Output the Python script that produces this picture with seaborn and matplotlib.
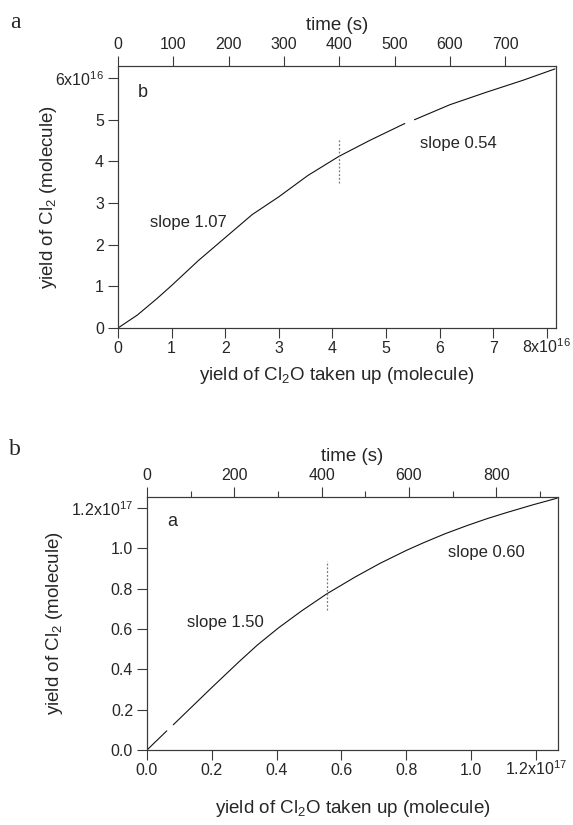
import numpy as np
import pandas as pd
import matplotlib
matplotlib.use("Agg")
import matplotlib.pyplot as plt
import seaborn as sns

# ---------------- data ----------------
# upper figure (inner label "b"), units of 1e16 molecules
uptake_top = [0, 0.36, 0.73, 1.0, 1.5, 2.0, 2.5, 3.0, 3.54, 4.12, 4.69, 5.35,
              5.53, 6.19, 6.87, 7.56, 8.15]
cl2_top = [0, 0.31, 0.71, 1.02, 1.62, 2.17, 2.72, 3.15, 3.66, 4.12, 4.50, 4.91,
           5.00, 5.36, 5.66, 5.95, 6.22]
seg_top = [0] * 12 + [1] * 5

# lower figure (inner label "a"), units of 1e17 molecules
uptake_bot = [0, 0.061, 0.081, 0.20, 0.282, 0.34, 0.405, 0.477, 0.555, 0.642,
              0.719, 0.80, 0.853, 0.92, 0.987, 1.05, 1.11, 1.19, 1.265]
cl2_bot = [0.0, 0.095, 0.125, 0.31, 0.435, 0.52, 0.605, 0.69, 0.775, 0.858,
           0.926, 0.99, 1.028, 1.073, 1.113, 1.148, 1.178, 1.216, 1.249]
seg_bot = [0, 0] + [1] * 17

# axis ticks / labels
xt_top = [0, 1, 2, 3, 4, 5, 6, 7, 8]
xtl_top = ["0", "1", "2", "3", "4", "5", "6", "7", r"$\mathregular{8x10^{16}}$"]
yt_top = [0, 1, 2, 3, 4, 5, 6]
ytl_top = ["0", "1", "2", "3", "4", "5", r"$\mathregular{6x10^{16}}$"]
time_top = [0, 100, 200, 300, 400, 500, 600, 700]
time_max_top = 792

xt_bot = [0, 0.2, 0.4, 0.6, 0.8, 1.0, 1.2]
xtl_bot = ["0.0", "0.2", "0.4", "0.6", "0.8", "1.0", r"$\mathregular{1.2x10^{17}}$"]
yt_bot = [0, 0.2, 0.4, 0.6, 0.8, 1.0, 1.2]
ytl_bot = ["0.0", "0.2", "0.4", "0.6", "0.8", "1.0", r"$\mathregular{1.2x10^{17}}$"]
time_bot = [0, 200, 400, 600, 800]
time_minor_bot = [100, 300, 500, 700, 900]
time_max_bot = 941

split_top = 4.12
split_top_y = (3.48, 4.55)
split_bot = 0.555
split_bot_y = (0.693, 0.94)

# ---------------- style ----------------
sns.set_style("ticks")
plt.rcParams["font.family"] = ["Liberation Sans", "DejaVu Sans"]
plt.rcParams["mathtext.fontset"] = "custom"
plt.rcParams["mathtext.rm"] = "Liberation Sans"

SP = "#3a3a3a"
TICK_FS = 11.5
LAB_FS = 13.5
ANN_FS = 12

fig = plt.figure(figsize=(5.73, 8.25), dpi=100)
W, H = 573, 825
ax1 = fig.add_axes([118 / W, 1 - 328 / H, 438 / W, 262 / H])
ax2 = fig.add_axes([147 / W, 1 - 750 / H, 411 / W, 253 / H])

df_top = pd.DataFrame({"uptake": uptake_top, "cl2": cl2_top, "seg": seg_top})
df_bot = pd.DataFrame({"uptake": uptake_bot, "cl2": cl2_bot, "seg": seg_bot})

ylab = r"yield of Cl$_\mathregular{2}$ (molecule)"
xlab = r"yield of Cl$_\mathregular{2}$O taken up (molecule)"


def style_axes(ax):
    for s in ax.spines.values():
        s.set_visible(True)
        s.set_color(SP)
        s.set_linewidth(0.8)
    ax.tick_params(direction="out", length=7, width=0.8, color=SP,
                   labelsize=TICK_FS, pad=3)


for ax, df, xt, xtl, yt, ytl, xlim, ylim, tt, tmax, tminor, split, sy in [
    (ax1, df_top, xt_top, xtl_top, yt_top, ytl_top, (0, 8.17), (0, 6.29),
     time_top, time_max_top, None, split_top, split_top_y),
    (ax2, df_bot, xt_bot, xtl_bot, yt_bot, ytl_bot, (0, 1.268), (0, 1.255),
     time_bot, time_max_bot, time_minor_bot, split_bot, split_bot_y),
]:
    sns.lineplot(data=df, x="uptake", y="cl2", units="seg", estimator=None,
                 color="#111111", lw=0.8, ax=ax, legend=False)
    ax.vlines(split, sy[0], sy[1], colors="#777777", linestyles=(0, (1.5, 1.5)),
              lw=0.9)
    ax.set_xlim(*xlim)
    ax.set_ylim(*ylim)
    ax.set_xticks(xt)
    ax.set_xticklabels(xtl)
    ax.set_yticks(yt)
    ax.set_yticklabels(ytl)
    style_axes(ax)
    ax.tick_params(axis="x", pad=11.3)
    for lab in ax.get_xticklabels():
        lab.set_verticalalignment("baseline")
    ax.set_ylabel(ylab, fontsize=LAB_FS)
    axt = ax.twiny()
    axt.set_xlim(0, tmax)
    axt.set_xticks(tt)
    if tminor is not None:
        axt.set_xticks(tminor, minor=True)
    style_axes(axt)
    axt.tick_params(which="minor", length=4, width=0.8, color=SP)
    axt.set_xlabel("time (s)", fontsize=LAB_FS, labelpad=5)

ax1.set_xlabel(xlab, fontsize=LAB_FS, labelpad=6)
ax2.set_xlabel(xlab, fontsize=LAB_FS, labelpad=14)
ax1.yaxis.set_label_coords(-0.135, 0.5)
ax2.yaxis.set_label_coords(-0.20, 0.5)

# annotations (pixel placement converted to axes fraction)
def afrac(ax_box, px, py):
    x0, y0, x1, y1 = ax_box
    return (px - x0) / (x1 - x0), (y1 - py) / (y1 - y0)

box1 = (118, 66, 556, 328)
box2 = (147, 497, 558, 750)
ax1.text(*afrac(box1, 143, 92), "b", transform=ax1.transAxes, fontsize=ANN_FS + 1,
         ha="center", va="center")
ax1.text(*afrac(box1, 150, 223), "slope 1.07", transform=ax1.transAxes,
         fontsize=ANN_FS, ha="left", va="center")
ax1.text(*afrac(box1, 420, 143), "slope 0.54", transform=ax1.transAxes,
         fontsize=ANN_FS, ha="left", va="center")
ax2.text(*afrac(box2, 172, 522), "a", transform=ax2.transAxes, fontsize=ANN_FS + 1,
         ha="center", va="center")
ax2.text(*afrac(box2, 187, 622), "slope 1.50", transform=ax2.transAxes,
         fontsize=ANN_FS, ha="left", va="center")
ax2.text(*afrac(box2, 448, 553), "slope 0.60", transform=ax2.transAxes,
         fontsize=ANN_FS, ha="left", va="center")

fig.text(15 / W, 1 - 22 / H, "a", family=["Liberation Serif"], fontsize=17,
         ha="center", va="center")
fig.text(15 / W, 1 - 450 / H, "b", family=["Liberation Serif"], fontsize=17,
         ha="center", va="center")

fig.savefig("out.png", dpi=100)
